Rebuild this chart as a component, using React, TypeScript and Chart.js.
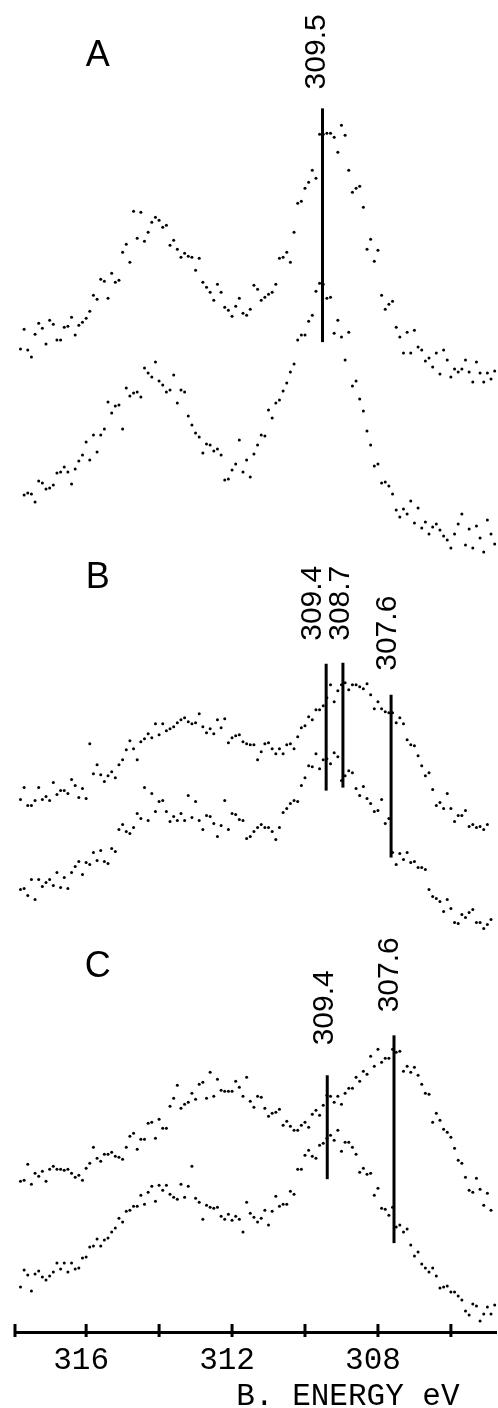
import React, { useEffect, useRef } from "react";
import { Chart, registerables } from "chart.js";

Chart.register(...registerables);

// Binding energy grid (eV), shared by every spectrum
const energies = [
  317.8, 317.7, 317.6, 317.5, 317.4, 317.3, 317.2, 317.1, 317.0, 316.9,
  316.8, 316.7, 316.6, 316.5, 316.4, 316.3, 316.2, 316.1, 316.0, 315.9,
  315.8, 315.7, 315.6, 315.5, 315.4, 315.3, 315.2, 315.1, 315.0, 314.9,
  314.8, 314.7, 314.6, 314.5, 314.4, 314.3, 314.2, 314.1, 314.0, 313.9,
  313.8, 313.7, 313.6, 313.5, 313.4, 313.3, 313.2, 313.1, 313.0, 312.9,
  312.8, 312.7, 312.6, 312.5, 312.4, 312.3, 312.2, 312.1, 312.0, 311.9,
  311.8, 311.7, 311.6, 311.5, 311.4, 311.3, 311.2, 311.1, 311.0, 310.9,
  310.8, 310.7, 310.6, 310.5, 310.4, 310.3, 310.2, 310.1, 310.0, 309.9,
  309.8, 309.7, 309.6, 309.5, 309.4, 309.3, 309.2, 309.1, 309.0, 308.9,
  308.8, 308.7, 308.6, 308.5, 308.4, 308.3, 308.2, 308.1, 308.0, 307.9,
  307.8, 307.7, 307.6, 307.5, 307.4, 307.3, 307.2, 307.1, 307.0, 306.9,
  306.8, 306.7, 306.6, 306.5, 306.4, 306.3, 306.2, 306.1, 306.0, 305.9,
  305.8, 305.7, 305.6, 305.5, 305.4, 305.3, 305.2, 305.1, 305.0, 304.9,
  304.8,
];

// Intensities (arbitrary units, spectra stacked with offsets)
const aUpper = [
  984, 1004, 983, 976, 999, 1010, 1005, 989, 1013, 1009,
  993, 993, 1006, 1007, 1016, 998, 1008, 1011, 1015, 1022,
  1038, 1034, 1054, 1052, 1035, 1060, 1051, 1053, 1081, 1089,
  1071, 1122, 1095, 1121, 1092, 1101, 1111, 1116, 1113, 1106,
  1108, 1088, 1093, 1084, 1076, 1080, 1077, 1076, 1063, 1075,
  1051, 1046, 1041, 1033, 1049, 1041, 1026, 1023, 1017, 1027,
  1035, 1020, 1018, 1024, 1048, 1044, 1033, 1036, 1039, 1041,
  1049, 1075, 1076, 1081, 1071, 1101, 1130, 1132, 1145, 1151,
  1163, 1155, 1199, 1199, 1200, 1200, 1196, 1181, 1208, 1198,
  1163, 1141, 1145, 1147, 1126, 1084, 1094, 1072, 1083, 1038,
  1024, 1029, 1032, 1006, 996, 980, 1001, 980, 1003, 986,
  983, 972, 975, 966, 980, 959, 983, 973, 956, 964,
  961, 964, 973, 961, 951, 971, 960, 951, 960, 954,
  962,
];

const aLower = [
  null, 838, 840, 839, 831, 852, 850, 844, 845, 848,
  860, 861, 866, 861, 849, 864, 872, 878, 891, 873,
  898, 881, 898, 904, 931, 920, 927, 928, 904, 945,
  937, 940, 941, 936, 965, 960, 956, 971, 952, 948,
  941, 943, 958, 930, 943, 941, 917, 908, 900, 896,
  880, 889, 888, 882, 884, 878, 853, 854, 863, 869,
  893, 861, 873, 856, 879, 888, 898, 897, 923, 915,
  930, 933, 942, 950, 961, 969, 993, 998, 998, 1012,
  1018, 1042, 1050, 1049, 1035, 1036, 1000, 1013, 996, 973,
  1001, 947, 952, 934, 922, 902, 888, 867, 869, 850,
  851, 847, 839, 823, 816, 824, 819, 832, 810, 825,
  805, 811, 799, 806, 809, 803, 797, 793, 785, 799,
  809, 819, 788, 804, 785, 807, 795, 781, 813, 799,
  789,
];

const bUpper = [
  533, 545, 527, 527, 532, 545, 533, 536, 532, 550,
  538, 542, 542, 539, 553, 547, 535, 544, 534, 589,
  559, 568, 558, 551, 557, 561, 555, 568, 573, 583,
  592, 584, 573, 591, 594, 599, 595, 609, 598, 609,
  602, 604, 606, 610, 613, 615, 611, 609, 610, 619,
  606, 600, 604, 599, 613, 605, 614, 590, 595, 597,
  598, 591, 589, 588, 588, 573, 581, 589, 590, 584,
  579, 584, 579, 588, 589, 584, 596, 605, 607, 616,
  613, 623, 623, 627, 635, 648, 631, 642, 648, 650,
  643, 648, 648, 646, 644, 649, 638, 624, 631, 624,
  621, 620, 620, 610, 615, 609, 593, 588, 587, 577,
  567, 557, 560, 543, 527, 530, 524, 539, 524, 511,
  517, 517, 522, 506, 508, 505, 506, 503, 508, null,
  null,
];

const bLower = [
  443, 444, 437, 453, 433, 453, 446, 450, 453, 447,
  460, 445, 455, 444, 460, 466, 471, 458, 470, 468,
  480, 472, 482, 471, 469, 484, 481, 503, 508, 501,
  499, 505, 519, 514, 545, 512, 539, 521, 531, 532,
  521, 511, 516, 512, 519, 512, 537, 515, 531, 512,
  503, 517, 516, 509, 496, 507, 532, 503, 519, 518,
  513, 512, 494, 496, 501, 505, 508, 505, 505, 501,
  493, 505, 520, 524, 529, 532, 531, 547, 555, 567,
  566, 579, 564, 573, 574, 569, 580, 576, 552, 557,
  562, 560, 544, 537, 546, 534, 529, 521, 522, 533,
  509, 514, 480, 468, 479, 473, 480, 470, 471, 465,
  465, 463, 443, 436, 434, 431, 421, 433, 424, 410,
  409, 418, 415, 420, 423, 410, 410, 404, 408, 413,
  null,
];

const cUpper = [
  151, 152, 168, 148, 159, 156, 161, 151, 163, 166,
  163, 163, 162, 163, 159, 155, 157, 152, 164, 169,
  185, 174, 171, 178, 178, 180, 176, 175, 173, 185,
  196, 199, 183, 193, 193, 209, 210, 194, 213, 204,
  204, 226, 234, 247, 224, 228, 230, 239, 233, 248,
  250, 234, 260, 236, 253, 242, 241, 241, 241, 251,
  245, 236, 255, 231, 225, 236, 235, 224, 216, 219,
  220, 223, 207, 211, 206, 202, 202, 207, 210, 205,
  218, 222, 217, 227, 237, 236, 230, 236, 228, 239,
  244, 244, 255, 251, 261, 258, 276, 266, 283, 270,
  274, 274, 283, 280, 281, 261, 266, 260, 265, 257,
  248, 239, 238, 210, 219, 212, 203, 200, 195, 184,
  172, 169, 155, 142, 140, 154, 143, 127, 139, 122,
  null,
];

const cLower = [
  45, 62, 57, 41, 58, 61, 55, 52, 56, 60,
  69, 63, 69, 60, 69, 63, 64, 74, 75, 85,
  86, 93, 86, 92, 94, 100, 104, 114, 110, 121,
  122, 126, 126, 137, 128, 140, 146, 131, 147, 142,
  147, 138, 135, 133, 148, 135, 146, 166, 134, 130,
  113, 127, 125, 124, 125, 116, 113, 118, 112, 116,
  113, 100, 130, 119, 115, 110, 114, 122, 107, 121,
  136, 126, 128, 128, 141, 138, 163, 163, 177, 182,
  176, 174, 187, 189, 194, 197, 192, 202, 181, 190,
  190, 185, 178, 160, 164, 158, 159, 137, 144, 124,
  123, 117, 125, 105, 107, 100, 103, 87, 76, 80,
  68, 64, 60, 64, 56, 44, 45, 46, 40, 40,
  36, 32, 21, 17, 28, 26, 11, 18, 25, 18,
  27,
];

// Axis
const axisTickValues = [316, 314, 312, 310, 308, 306];
const labeledTickValues = [316, 312, 308];
const axisTitle = "B. ENERGY eV";

// Peak markers
const markerLabels = ["309.5", "309.4", "308.7", "307.6", "309.4", "307.6"];
const markerEnergies = [309.52, 309.42, 308.96, 307.64, 309.39, 307.56];
const markerTops = [1225, 669, 670, 638, 257, 297];
const markerBottoms = [991, 542, 545, 475, 153, 89];

const panelLetters = ["A", "B", "C"];

// ---- layout (positions of text) ----
const X_MIN = 304.75;
const X_MAX = 317.95;
const Y_MIN = 0;
const Y_MAX = 1332;
const markerLabelEnergies = [309.67, 309.78, 309.01, 307.73, 309.45, 307.67];
const markerLabelLevels = [1244, 692, 692, 662, 287, 320];
const panelLetterEnergy = 315.68;
const panelLetterLevels = [1267, 745, 355];

const MONO = '"Liberation Mono", "Courier New", monospace';
const SANS = '"Liberation Sans", Arial, sans-serif';

const overlayPlugin = {
  id: "overlay",
  afterDraw(chart: any) {
    const { ctx, chartArea } = chart;
    const x = chart.scales.x;
    const y = chart.scales.y;
    ctx.save();
    ctx.fillStyle = "#000";
    ctx.strokeStyle = "#000";

    // panel letters
    ctx.font = `36px ${SANS}`;
    ctx.textAlign = "center";
    ctx.textBaseline = "alphabetic";
    panelLetters.forEach((t, i) => {
      ctx.fillText(t, x.getPixelForValue(panelLetterEnergy), y.getPixelForValue(panelLetterLevels[i]));
    });

    // rotated peak labels
    ctx.font = `30px ${SANS}`;
    markerLabels.forEach((t, i) => {
      const px = x.getPixelForValue(markerLabelEnergies[i]);
      const py = y.getPixelForValue(markerLabelLevels[i]);
      ctx.save();
      ctx.translate(px, py);
      ctx.rotate(-Math.PI / 2);
      ctx.textAlign = "left";
      ctx.textBaseline = "middle";
      ctx.fillText(t, 0, 0);
      ctx.restore();
    });

    // tick marks crossing the axis line
    const yb = chartArea.bottom;
    ctx.lineWidth = 3;
    [...axisTickValues, X_MAX].forEach((v) => {
      const px = x.getPixelForValue(v);
      ctx.beginPath();
      ctx.moveTo(px, yb - 8);
      ctx.lineTo(px, yb + 5);
      ctx.stroke();
    });

    // axis title
    ctx.font = `31px ${MONO}`;
    ctx.textAlign = "center";
    ctx.textBaseline = "middle";
    ctx.fillText(axisTitle, chartArea.left + 0.6915 * (chartArea.right - chartArea.left), yb + 65);
    ctx.restore();
  },
};

export default function App() {
  const canvasRef = useRef<HTMLCanvasElement | null>(null);

  useEffect(() => {
    if (!canvasRef.current) return;
    const curves = [aUpper, aLower, bUpper, bLower, cUpper, cLower];
    const curveSets = curves.map((series) => ({
      type: "scatter" as const,
      data: energies
        .map((e, i) => ({ x: e, y: series[i] }))
        .filter((p) => p.y !== null),
      pointRadius: 1.5,
      pointHoverRadius: 1.5,
      pointBackgroundColor: "#000",
      pointBorderWidth: 0,
      showLine: false,
      clip: false as any,
    }));
    const markerSets = markerEnergies.map((e, i) => ({
      type: "scatter" as const,
      data: [
        { x: e, y: markerBottoms[i] },
        { x: e, y: markerTops[i] },
      ],
      showLine: true,
      borderColor: "#000",
      borderWidth: 3,
      pointRadius: 0,
      fill: false,
      clip: false as any,
    }));

    const chart = new Chart(canvasRef.current, {
      type: "scatter",
      data: { datasets: [...curveSets, ...markerSets] as any },
      plugins: [overlayPlugin],
      options: {
        animation: false,
        responsive: false,
        devicePixelRatio: 1,
        layout: { padding: { left: 15, right: 0, top: 0, bottom: 0 } },
        plugins: { legend: { display: false }, tooltip: { enabled: false } },
        scales: {
          x: {
            type: "linear",
            reverse: true,
            min: X_MIN,
            max: X_MAX,
            afterBuildTicks: (s: any) => {
              s.ticks = axisTickValues.map((v) => ({ value: v }));
            },
            afterFit: (s: any) => {
              s.height = 76;
            },
            ticks: {
              autoSkip: false,
              maxRotation: 0,
              minRotation: 0,
              padding: 10,
              labelOffset: -5,
              color: "#000",
              font: { family: MONO, size: 31 },
              callback: (v: any) => (labeledTickValues.includes(Number(v)) ? String(v) : ""),
            },
            grid: { display: true, drawOnChartArea: false, drawTicks: false },
            border: { display: true, color: "#000", width: 3 },
          },
          y: {
            type: "linear",
            display: false,
            min: Y_MIN,
            max: Y_MAX,
          },
        },
      },
    });
    return () => chart.destroy();
  }, []);

  return (
    <div style={{ position: "absolute", left: 0, top: 0, width: 498, height: 1408, background: "#fff" }}>
      <canvas ref={canvasRef} width={498} height={1408} style={{ display: "block" }} />
    </div>
  );
}
